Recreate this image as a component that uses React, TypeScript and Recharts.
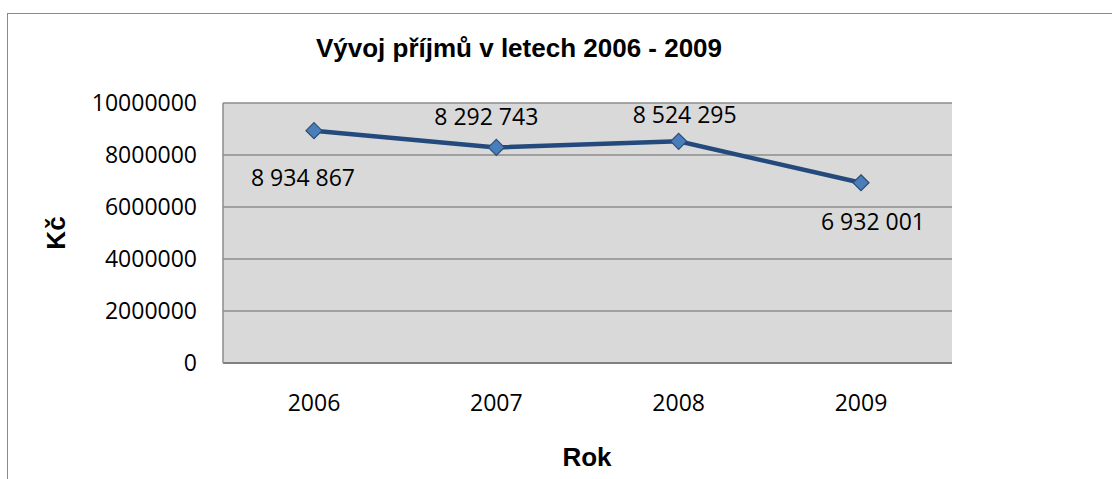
import React from 'react';
import { LineChart, Line, XAxis, YAxis, CartesianGrid, LabelList } from 'recharts';

const years = ['2006', '2007', '2008', '2009'];
const income = [8934867, 8292743, 8524295, 6932001];
const yTicks = [0, 2000000, 4000000, 6000000, 8000000, 10000000];

const data = years.map((y, i) => ({ year: y, value: income[i] }));

// label placement per point: [dx, dy]
const labelOffsets: [number, number][] = [
  [-11, 46],
  [-10, -31],
  [6, -27],
  [12, 38],
];

const fmt = (v: number) => String(v).replace(/\B(?=(\d{3})+(?!\d))/g, ' ');

const DataLabel = (props: any) => {
  const { x, y, value, index } = props;
  const [dx, dy] = labelOffsets[index] || [0, -20];
  return (
    <text x={x + dx} y={y + dy} textAnchor="middle" dominantBaseline="central"
      fontFamily="Open Sans" fontSize={23} fill="#000">
      {fmt(value)}
    </text>
  );
};

const Diamond = (props: any) => {
  const { cx, cy } = props;
  const r = 8;
  return (
    <path d={`M${cx},${cy - r} L${cx + r},${cy} L${cx},${cy + r} L${cx - r},${cy} Z`}
      fill="#4a7ebb" stroke="#2c4d75" strokeWidth={1.2} />
  );
};

export default function App() {
  return (
    <div style={{ position: 'absolute', left: 0, top: 0, width: 1112, height: 479, background: '#fff', overflow: 'hidden' }}>
      <div style={{ position: 'absolute', left: 7, top: 13, width: 1200, height: 600, borderLeft: '1.5px solid #8a8a8a', borderTop: '1.5px solid #8a8a8a' }} />
      <div style={{ position: 'absolute', left: 0, top: 0 }}>
        <LineChart width={1112} height={479} data={data}
          margin={{ top: 103, right: 160, left: 0, bottom: 0 }}>
          <text x={519} y={48} textAnchor="middle" dominantBaseline="central"
            fontFamily="Liberation Sans" fontWeight="bold" fontSize={26} fill="#000">
            Vývoj příjmů v letech 2006 - 2009
          </text>
          <text x={0} y={0} transform="translate(56,233) rotate(-90)" textAnchor="middle" dominantBaseline="central"
            fontFamily="Liberation Sans" fontWeight="bold" fontSize={26} fill="#000">
            Kč
          </text>
          <text x={587} y={457} textAnchor="middle" dominantBaseline="central"
            fontFamily="Liberation Sans" fontWeight="bold" fontSize={26} fill="#000">
            Rok
          </text>
          <CartesianGrid vertical={false} fill="#d9d9d9" stroke="#8c8c8c" strokeWidth={1.5} />
          <XAxis dataKey="year" height={116} tickLine={false} tickSize={0} tickMargin={32}
            padding={{ left: 91, right: 91 }}
            axisLine={{ stroke: '#808080', strokeWidth: 2 }}
            tick={{ fontFamily: 'Open Sans', fontSize: 23, fill: '#000' }} />
          <YAxis width={223} domain={[0, 10000000]} ticks={yTicks} tickLine={false} tickSize={0} tickMargin={26}
            axisLine={{ stroke: '#8c8c8c', strokeWidth: 1.5 }} interval={0}
            tick={{ fontFamily: 'Open Sans', fontSize: 23, fill: '#000' }} />
          <Line dataKey="value" stroke="#24497c" strokeWidth={4.5} isAnimationActive={false}
            dot={<Diamond />} activeDot={false}>
            <LabelList dataKey="value" content={<DataLabel />} />
          </Line>
        </LineChart>
      </div>
    </div>
  );
}
